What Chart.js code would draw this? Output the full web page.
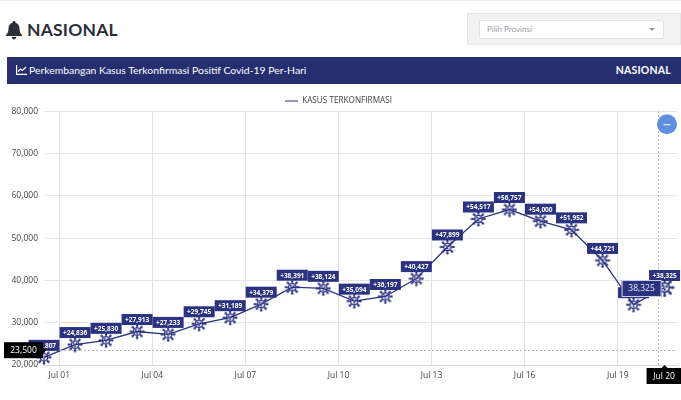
<!DOCTYPE html>
<html lang="id">

<head>
  <meta charset="UTF-8">
  <title>Perkembangan Kasus Terkonfirmasi - Nasional</title>
  <script src="https://cdn.jsdelivr.net/npm/chart.js"></script>
  <style>
    html, body { margin: 0; padding: 0; width: 681px; height: 400px; overflow: hidden; background: #fff; font-family: Lato, sans-serif; }
    .topline { position: absolute; left: 0; top: 0; width: 681px; height: 1px; background: #f0f0f0; }
    .page-title { position: absolute; left: 27px; top: 18px; font-size: 17.5px; line-height: 24px; font-weight: 700; color: #2b2f36; letter-spacing: .2px; }
    .bell { position: absolute; left: 6px; top: 21px; }
    .filter { position: absolute; left: 467px; top: 13px; width: 214px; height: 32px; background: #f2f2f2; border: 1px solid #e6e6e6; box-sizing: border-box; }
    .select { position: absolute; left: 11px; top: 6px; width: 185px; height: 19px; background: #fff; border: 1px solid #e2e2e2; border-radius: 2px; box-sizing: border-box; font-size: 8px; line-height: 17px; color: #9a9ea6; padding-left: 7px; }
    .select i { position: absolute; right: 8px; top: 7px; border: 3px solid transparent; border-top-color: #999; }
    .banner { position: absolute; left: 7px; top: 57px; width: 674px; height: 27px; background: #252f70; color: #fff; font-size: 10.4px; line-height: 27px; }
    .banner svg { position: absolute; left: 9px; top: 8px; }
    .banner .name { position: absolute; left: 22px; }
    .banner b { position: absolute; right: 10px; font-size: 10.5px; letter-spacing: .2px; }
    .chart-wrap { position: absolute; left: 0; top: 90px; width: 681px; height: 310px; }
  </style>
</head>

<body>
  <div class="topline"></div>
  <svg class="bell" width="16" height="19" viewBox="0 0 16 19"><path fill="#2b2f36" d="M8 0c1 0 1.500.7 1.500 1.700C12 2.400 13.500 4.500 13.500 7.500c0 3.500 1 5 2.500 6.500v1H0v-1c1.500-1.500 2.500-3 2.500-6.500 0-3 1.500-5.100 4-5.800C6.500.7 7 0 8 0zM5.800 16h4.400c0 1.500-1 2.500-2.200 2.500S5.800 17.500 5.800 16z"/></svg>
  <div class="page-title">NASIONAL</div>
  <div class="filter">
    <div class="select">Pilih Provinsi<i></i></div>
  </div>
  <div class="banner">
    <svg width="11" height="10" viewBox="0 0 11 10"><path fill="none" stroke="#fff" stroke-width="1.200" d="M.6 0v9.400H11M2 6.500l2.500-2.500 2 1.500L10 2"/></svg>
    <span class="name">Perkembangan Kasus Terkonfirmasi Positif Covid-19 Per-Hari</span>
    <b>NASIONAL</b>
  </div>
  <div class="chart-wrap"><canvas id="casesChart"></canvas></div>

  <script>
    const categories = ['Jun 30', 'Jul 01', 'Jul 02', 'Jul 03', 'Jul 04', 'Jul 05', 'Jul 06', 'Jul 07', 'Jul 08', 'Jul 09', 'Jul 10',
      'Jul 11', 'Jul 12', 'Jul 13', 'Jul 14', 'Jul 15', 'Jul 16', 'Jul 17', 'Jul 18', 'Jul 19', 'Jul 20'];
    const confirmed = [21807, 24836, 25830, 27913, 27233, 29745, 31189, 34379, 38391, 38124, 35094,
      36197, 40427, 47899, 54517, 56757, 54000, 51952, 44721, 34257, 38325];
    const xTickLabels = ['Jul 01', 'Jul 04', 'Jul 07', 'Jul 10', 'Jul 13', 'Jul 16', 'Jul 19'];
    const seriesName = 'KASUS TERKONFIRMASI';
    const hoverValue = 23500;
    const hoverLabel = 'Jul 20';

    const navy = '#2b3280';
    const tickShift = 0.49;

    function virusIcon(r) {
      const size = Math.ceil(r * 2 + 2);
      const c = document.createElement('canvas');
      c.width = c.height = size;
      const g = c.getContext('2d');
      g.translate(size / 2, size / 2);
      g.strokeStyle = navy;
      g.fillStyle = navy;
      g.lineWidth = Math.max(1.4, r * 0.2);
      g.beginPath();
      g.arc(0, 0, r * 0.52, 0, Math.PI * 2);
      g.stroke();
      for (let i = 0; i < 8; i++) {
        const a = i * Math.PI / 4;
        g.beginPath();
        g.moveTo(Math.cos(a) * r * 0.55, Math.sin(a) * r * 0.55);
        g.lineTo(Math.cos(a) * r * 0.9, Math.sin(a) * r * 0.9);
        g.stroke();
        g.beginPath();
        g.arc(Math.cos(a) * r * 0.9, Math.sin(a) * r * 0.9, r * 0.17, 0, Math.PI * 2);
        g.fill();
      }
      // small dots inside the body
      [[-.18, -.18], [.2, -.1], [0, .2]].forEach(function (p) {
        g.beginPath();
        g.arc(p[0] * r, p[1] * r, r * 0.14, 0, Math.PI * 2);
        g.fill();
      });
      return c;
    }

    const smallVirus = virusIcon(7);
    const bigVirus = virusIcon(9);

    function labelBox(ctx, cx, cy, w, h, fill, stroke) {
      ctx.fillStyle = fill;
      ctx.fillRect(cx - w / 2, cy - h / 2, w, h);
      if (stroke) {
        ctx.strokeStyle = stroke;
        ctx.lineWidth = 1;
        ctx.strokeRect(cx - w / 2 + 0.5, cy - h / 2 + 0.5, w - 1, h - 1);
      }
    }

    // value labels, hover crosshair and the apex-style tooltips
    const overlayPlugin = {
      id: 'overlay',
      beforeLayout(chart) {
        // legend reserves 10px under itself, the reference has less
        const legend = chart.legend;
        if (!legend.trimmed) {
          const fit = legend.fit;
          legend.fit = function () { fit.call(this); this.height -= 4; };
          legend.trimmed = true;
        }
      },
      afterDatasetsDraw(chart) {
        const ctx = chart.ctx;
        const x = chart.scales.x;
        const y = chart.scales.y;
        const area = chart.chartArea;
        const points = chart.getDatasetMeta(0).data;
        const last = points[points.length - 1];

        ctx.save();
        const hx = x.getPixelForValue(confirmed.length - 1 - 0.22);
        const hy = y.getPixelForValue(hoverValue);
        ctx.strokeStyle = '#b5b8bd';
        ctx.lineWidth = 1;
        ctx.setLineDash([2, 2]);
        ctx.beginPath();
        ctx.moveTo(Math.round(hx) + 0.5, area.top);
        ctx.lineTo(Math.round(hx) + 0.5, area.bottom);
        ctx.moveTo(area.left, Math.round(hy) + 0.5);
        ctx.lineTo(area.right, Math.round(hy) + 0.5);
        ctx.stroke();
        ctx.setLineDash([]);

        ctx.textAlign = 'center';
        ctx.textBaseline = 'middle';
        ctx.font = '700 6.5px "Open Sans"';
        points.forEach(function (pt, i) {
          labelBox(ctx, pt.x, pt.y - 12, 31, 11, navy);
          ctx.fillStyle = '#fff';
          ctx.fillText('+' + confirmed[i].toLocaleString('en-US'), pt.x, pt.y - 11.5);
        });

        // y crosshair label
        ctx.fillStyle = '#000';
        ctx.fillRect(4, hy - 8, 39, 16);
        ctx.beginPath();
        ctx.moveTo(43, hy - 3);
        ctx.lineTo(46, hy);
        ctx.lineTo(43, hy + 3);
        ctx.fill();
        ctx.fillStyle = '#fff';
        ctx.font = '8.5px "Open Sans"';
        ctx.fillText(hoverValue.toLocaleString('en-US'), 23.5, hy + 0.5);

        // x crosshair label
        ctx.fillStyle = '#000';
        ctx.fillRect(last.x - 18, area.bottom + 3, 35, 16);
        ctx.beginPath();
        ctx.moveTo(last.x - 3, area.bottom + 3);
        ctx.lineTo(last.x, area.bottom);
        ctx.lineTo(last.x + 3, area.bottom + 3);
        ctx.fill();
        ctx.fillStyle = '#fff';
        ctx.fillText(hoverLabel, last.x - 0.5, area.bottom + 11.5);

        // hovered value tooltip
        labelBox(ctx, last.x - 23, last.y + 1, 40, 17, navy, '#cfd2e6');
        ctx.fillStyle = '#e8e9f4';
        ctx.font = '8.5px "Open Sans"';
        ctx.fillText(confirmed[confirmed.length - 1].toLocaleString('en-US'), last.x - 23, last.y + 1.5);

        // collapse button
        ctx.fillStyle = '#5f90e0';
        ctx.beginPath();
        ctx.arc(667, area.top + 13, 10, 0, Math.PI * 2);
        ctx.fill();
        ctx.strokeStyle = '#fff';
        ctx.lineWidth = 1;
        ctx.beginPath();
        ctx.moveTo(663.5, area.top + 13.5);
        ctx.lineTo(670.5, area.top + 13.5);
        ctx.stroke();
        ctx.restore();
      }
    };

    const ctx = document.getElementById('casesChart').getContext('2d');
    new Chart(ctx, {
      type: 'line',
      data: {
        labels: categories,
        datasets: [{
          label: seriesName,
          data: confirmed.map(function (v, i) { return { x: i, y: v }; }),
          borderColor: navy,
          backgroundColor: navy,
          borderWidth: 1.3,
          tension: 0,
          pointStyle: confirmed.map(function (v, i) { return i === confirmed.length - 1 ? bigVirus : smallVirus; }),
          pointRadius: 7,
          clip: false
        }]
      },
      options: {
        responsive: true,
        maintainAspectRatio: false,
        animation: false,
        events: [],
        layout: { autoPadding: false, padding: { top: 4, right: 4, bottom: 0, left: 0 } },
        plugins: {
          tooltip: { enabled: false },
          legend: {
            position: 'top',
            labels: {
              boxWidth: 13,
              boxHeight: 1,
              padding: 3,
              color: '#444',
              font: { family: '"Open Sans"', size: 8.2 },
              generateLabels: function (chart) {
                return Chart.defaults.plugins.legend.labels.generateLabels(chart).map(function (item) {
                  item.lineWidth = 0;
                  return item;
                });
              }
            }
          }
        },
        scales: {
          x: {
            type: 'linear',
            min: 0,
            max: 20.4,
            afterBuildTicks(scale) {
              scale.ticks = xTickLabels.map(function (t, k) { return { value: tickShift + k * 3 }; });
            },
            afterFit(scale) { scale.height = 35; },
            grid: { color: '#e2e2e2', drawTicks: false },
            border: { color: '#dcdcdc' },
            ticks: {
              autoSkip: false,
              maxRotation: 0,
              padding: 5,
              color: '#444',
              font: { family: '"Open Sans"', size: 8.5 },
              callback: function (v, i) { return xTickLabels[i]; }
            }
          },
          y: {
            min: 20000,
            max: 80000,
            afterFit(scale) { scale.width = 44; },
            grid: { color: '#e6e6e6', drawTicks: false },
            border: { display: false },
            ticks: {
              stepSize: 10000,
              padding: 6,
              color: '#444',
              font: { family: '"Open Sans"', size: 8.5 },
              callback: function (v) { return v.toLocaleString('en-US'); }
            }
          }
        }
      },
      plugins: [overlayPlugin]
    });
  </script>
</body>

</html>
